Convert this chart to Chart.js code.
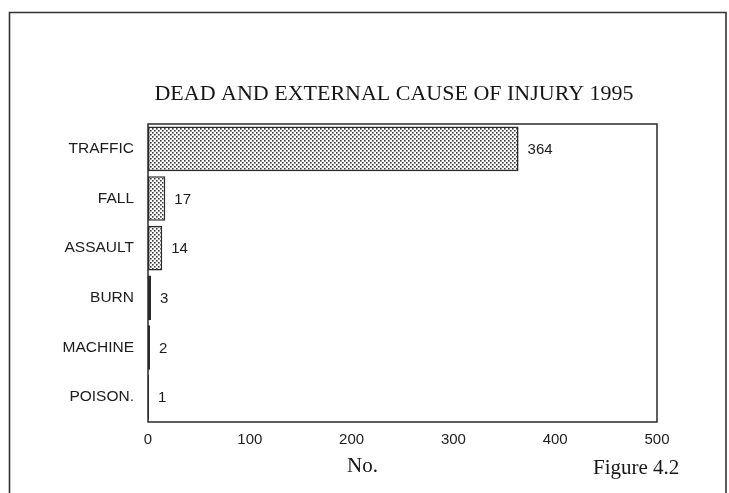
<!DOCTYPE html>
<html>
<head>
<meta charset="utf-8">
<script src="https://cdn.jsdelivr.net/npm/chart.js@4/dist/chart.umd.min.js"></script>
<style>
  html, body { margin: 0; padding: 0; background: #ffffff; }
  #wrap { position: relative; width: 729px; height: 493px; }
</style>
</head>
<body>
<div id="wrap"><canvas id="c" width="729" height="493"></canvas></div>
<script>
// ---- Data ----
const categories = ["TRAFFIC", "FALL", "ASSAULT", "BURN", "MACHINE", "POISON."];
const deaths = [364, 17, 14, 3, 2, 1];
const xTicks = [0, 100, 200, 300, 400, 500];
const chartTitle = "DEAD AND EXTERNAL CAUSE OF INJURY 1995";
const xAxisTitle = "No.";
const figureLabel = "Figure 4.2";

// ---- Dot pattern fill ----
function makePattern() {
  const p = document.createElement('canvas');
  p.width = 4; p.height = 4;
  const g = p.getContext('2d');
  g.fillStyle = '#ffffff';
  g.fillRect(0, 0, 4, 4);
  g.fillStyle = '#3a3a3a';
  g.fillRect(0, 0, 1.6, 1.6);
  g.fillRect(2, 2, 1.6, 1.6);
  return g.createPattern(p, 'repeat');
}
const ctx0 = document.getElementById('c').getContext('2d');
const dotFill = makePattern();

const serif = '"Liberation Serif", "Times New Roman", serif';
const sans = '"Liberation Sans", Arial, sans-serif';

const decor = {
  id: 'decor',
  afterDraw(chart) {
    const ctx = chart.ctx;
    const a = chart.chartArea;
    ctx.save();
    // outer frame
    ctx.strokeStyle = '#333333';
    ctx.lineWidth = 1.6;
    ctx.beginPath();
    ctx.moveTo(9.5, 500);
    ctx.lineTo(9.5, 12.5);
    ctx.lineTo(726, 12.5);
    ctx.lineTo(726, 500);
    ctx.stroke();
    // plot box
    ctx.strokeStyle = '#2a2a2a';
    ctx.lineWidth = 1.5;
    ctx.strokeRect(a.left, a.top, a.right - a.left, a.bottom - a.top);
    // title
    ctx.fillStyle = '#161616';
    ctx.font = '22px ' + serif;
    ctx.textAlign = 'center';
    ctx.textBaseline = 'alphabetic';
    ctx.fillText(chartTitle, 394, 100);
    // axis title
    ctx.font = '21px ' + serif;
    ctx.textAlign = 'left';
    ctx.fillText(xAxisTitle, 347, 472);
    ctx.fillText(figureLabel, 593, 474);
    // value labels
    ctx.font = '15px ' + sans;
    ctx.fillStyle = '#1c1c1c';
    ctx.textBaseline = 'middle';
    const meta = chart.getDatasetMeta(0);
    meta.data.forEach((bar, i) => {
      ctx.fillText(String(deaths[i]), bar.x + 9, bar.y + 1);
    });
    ctx.restore();
  }
};

new Chart(ctx0, {
  type: 'bar',
  data: {
    labels: categories,
    datasets: [{
      data: deaths,
      backgroundColor: dotFill,
      borderColor: '#2a2a2a',
      borderWidth: 1.6,
      borderSkipped: false,
      barPercentage: 0.9,
      categoryPercentage: 1.0
    }]
  },
  options: {
    indexAxis: 'y',
    responsive: false,
    animation: false,
    devicePixelRatio: 1,
    layout: { padding: { left: 0, top: 124, right: 72, bottom: 0 } },
    plugins: { legend: { display: false }, tooltip: { enabled: false }, title: { display: false } },
    scales: {
      x: {
        min: 0, max: 500,
        afterBuildTicks(scale) { scale.ticks = xTicks.map(v => ({ value: v })); },
        afterFit(scale) { scale.height = 71; },
        grid: { display: false, drawTicks: false },
        border: { display: false },
        ticks: { color: '#1c1c1c', font: { family: sans, size: 15 }, padding: 9, maxRotation: 0 }
      },
      y: {
        afterFit(scale) { scale.width = 148; },
        grid: { display: false, drawTicks: false },
        border: { display: false },
        ticks: { color: '#1c1c1c', font: { family: sans, size: 15.5 }, padding: 14 }
      }
    }
  },
  plugins: [decor]
});
</script>
</body>
</html>
